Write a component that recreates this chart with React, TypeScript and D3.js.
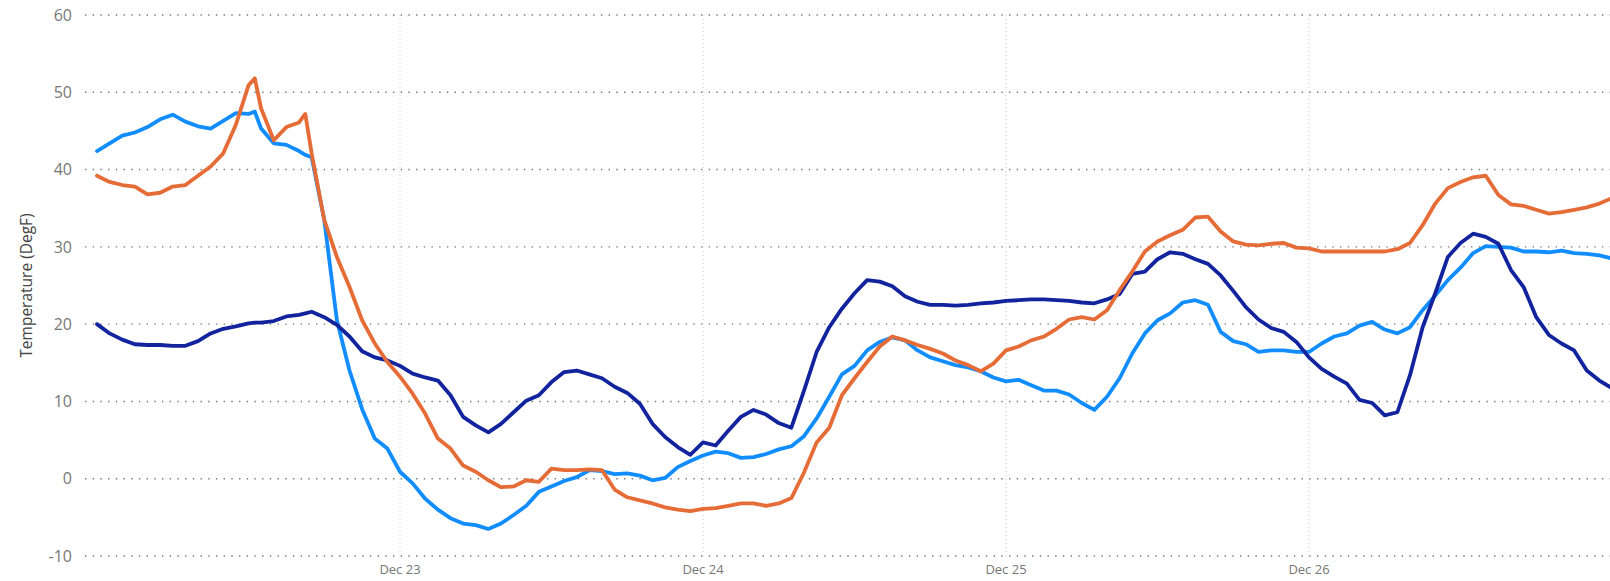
import React from "react";
import * as d3 from "d3";

// hour offsets from Dec 22 00:00 (two extra half-hour points for the orange peaks)
const HOURS = [...d3.range(0, 13), 12.5, ...d3.range(13, 17), 16.5, ...d3.range(17, 121)];

const lightBlue = [
  42.4, 43.4, 44.4, 44.8, 45.5, 46.5, 47.1, 46.2, 45.6, 45.3, 46.3, 47.3,
  47.2, 47.5, 45.3, 43.4, 43.2, 42.4, 41.9, 41.6, 33.5, 20.5, 14.0, 9.0, 5.2, 3.9,
  0.9, -0.6, -2.6, -4.0, -5.1, -5.8, -6.0, -6.5, -5.8, -4.7, -3.5, -1.7,
  -1.0, -0.3, 0.2, 1.1, 1.0, 0.6, 0.7, 0.4, -0.2, 0.1, 1.5, 2.3,
  3.0, 3.5, 3.3, 2.7, 2.8, 3.2, 3.8, 4.2, 5.5, 7.8, 10.6, 13.5,
  14.6, 16.6, 17.7, 18.3, 17.9, 16.6, 15.7, 15.2, 14.7, 14.4, 13.9, 13.1,
  12.6, 12.8, 12.1, 11.4, 11.4, 10.9, 9.8, 8.9, 10.6, 13.0, 16.2, 18.8,
  20.5, 21.4, 22.8, 23.1, 22.5, 19.0, 17.8, 17.4, 16.4, 16.6, 16.6, 16.4,
  16.4, 17.5, 18.4, 18.8, 19.8, 20.3, 19.3, 18.8, 19.6, 21.8, 23.7, 25.7,
  27.3, 29.2, 30.1, 30.0, 29.9, 29.4, 29.4, 29.3, 29.5, 29.2, 29.1, 28.9,
  28.5,
];

const orange = [
  39.2, 38.4, 38.0, 37.8, 36.8, 37.0, 37.8, 38.0, 39.2, 40.4, 42.1, 45.8,
  50.9, 51.8, 47.9, 43.8, 45.5, 46.1, 47.2, 42.1, 33.5, 28.7, 24.8, 20.5, 17.5, 15.1,
  13.2, 11.0, 8.4, 5.2, 3.9, 1.7, 0.9, -0.2, -1.1, -1.0, -0.2, -0.4,
  1.3, 1.1, 1.1, 1.2, 1.1, -1.4, -2.4, -2.8, -3.2, -3.7, -4.0, -4.2,
  -3.9, -3.8, -3.5, -3.2, -3.2, -3.5, -3.2, -2.5, 0.8, 4.7, 6.6, 10.8,
  13.0, 15.1, 17.1, 18.4, 17.9, 17.3, 16.8, 16.2, 15.3, 14.7, 13.9, 14.9,
  16.6, 17.1, 17.9, 18.4, 19.4, 20.6, 20.9, 20.6, 21.8, 24.4, 26.8, 29.4,
  30.7, 31.5, 32.2, 33.8, 33.9, 32.0, 30.7, 30.3, 30.2, 30.4, 30.5, 29.9,
  29.8, 29.4, 29.4, 29.4, 29.4, 29.4, 29.4, 29.7, 30.5, 32.8, 35.6, 37.6,
  38.4, 39.0, 39.2, 36.7, 35.5, 35.3, 34.8, 34.3, 34.5, 34.8, 35.1, 35.6,
  36.3,
];

const darkBlue = [
  20.0, 18.8, 18.0, 17.4, 17.3, 17.3, 17.2, 17.2, 17.8, 18.8, 19.4, 19.7,
  20.1, 20.2, 20.2, 20.4, 21.0, 21.2, 21.4, 21.6, 20.9, 19.9, 18.4, 16.5, 15.7, 15.3,
  14.6, 13.6, 13.1, 12.7, 10.8, 8.0, 6.9, 6.0, 7.1, 8.6, 10.1, 10.8,
  12.5, 13.8, 14.0, 13.5, 13.0, 11.9, 11.1, 9.7, 7.1, 5.4, 4.1, 3.1,
  4.7, 4.3, 6.2, 8.0, 8.9, 8.3, 7.2, 6.6, 11.4, 16.4, 19.6, 22.0,
  24.0, 25.7, 25.5, 24.9, 23.6, 22.9, 22.5, 22.5, 22.4, 22.5, 22.7, 22.8,
  23.0, 23.1, 23.2, 23.2, 23.1, 23.0, 22.8, 22.7, 23.2, 23.9, 26.5, 26.8,
  28.4, 29.3, 29.1, 28.4, 27.8, 26.3, 24.3, 22.2, 20.6, 19.5, 19.0, 17.7,
  15.7, 14.2, 13.2, 12.3, 10.2, 9.8, 8.2, 8.6, 13.4, 19.6, 24.0, 28.7,
  30.5, 31.7, 31.3, 30.4, 27.0, 24.8, 20.9, 18.6, 17.5, 16.6, 14.0, 12.7,
  11.7,
];

const yTicks = [-10, 0, 10, 20, 30, 40, 50, 60];
const xTickDays = [23, 24, 25, 26];

const START = new Date(2022, 11, 22);
const END = new Date(2022, 11, 27);

const series = [
  { name: "lightBlue", color: "#118DFF", values: lightBlue },
  { name: "darkBlue", color: "#12239E", values: darkBlue },
  { name: "orange", color: "#E66C37", values: orange },
];

const W = 1610;
const H = 581;
const FONT = "'Segoe UI', 'Open Sans', sans-serif";

export default function App() {
  const x = d3.scaleTime().domain([START, END]).range([97, 1612]);
  const y = d3.scaleLinear().domain([-10, 60]).range([556, 15]);

  const toDate = (h: number) => new Date(START.getTime() + h * 3600 * 1000);

  const line = d3
    .line<number>()
    .x((_, i) => x(toDate(HOURS[i])))
    .y((d) => y(d))
    .curve(d3.curveLinear);

  return (
    <svg
      width={W}
      height={H}
      style={{ position: "absolute", left: 0, top: 0, background: "#fff" }}
    >
      {/* horizontal grid + y labels */}
      {yTicks.map((t) => (
        <g key={t}>
          <line
            x1={85}
            x2={W}
            y1={y(t)}
            y2={y(t)}
            stroke="#777"
            strokeWidth={1.4}
            strokeDasharray="1.4 6.3"
          />
          <text
            x={72}
            y={y(t)}
            dy="0.36em"
            textAnchor="end"
            fontFamily={FONT}
            fontSize={16}
            fill="#777"
          >
            {t}
          </text>
        </g>
      ))}

      {/* vertical grid + x labels */}
      {xTickDays.map((d) => {
        const xx = x(new Date(2022, 11, d));
        return (
          <g key={d}>
            <line
              x1={xx}
              x2={xx}
              y1={15}
              y2={556}
              stroke="#c8c8c8"
              strokeWidth={1}
              strokeDasharray="1 3"
            />
            <text
              x={xx}
              y={574}
              textAnchor="middle"
              fontFamily={FONT}
              fontSize={13}
              fill="#777"
            >
              {d3.timeFormat("%b %-d")(new Date(2022, 11, d))}
            </text>
          </g>
        );
      })}

      {/* axis title */}
      <text
        transform={`translate(27, ${(y(60) + y(-10)) / 2}) rotate(-90)`}
        dy="0.35em"
        textAnchor="middle"
        fontFamily={FONT}
        fontSize={15.5}
        fill="#444"
      >
        Temperature (DegF)
      </text>

      {/* lines */}
      {series.map((s) => (
        <path
          key={s.name}
          d={line(s.values) || ""}
          fill="none"
          stroke={s.color}
          strokeWidth={3.8}
          strokeLinejoin="round"
          strokeLinecap="round"
        />
      ))}
    </svg>
  );
}
